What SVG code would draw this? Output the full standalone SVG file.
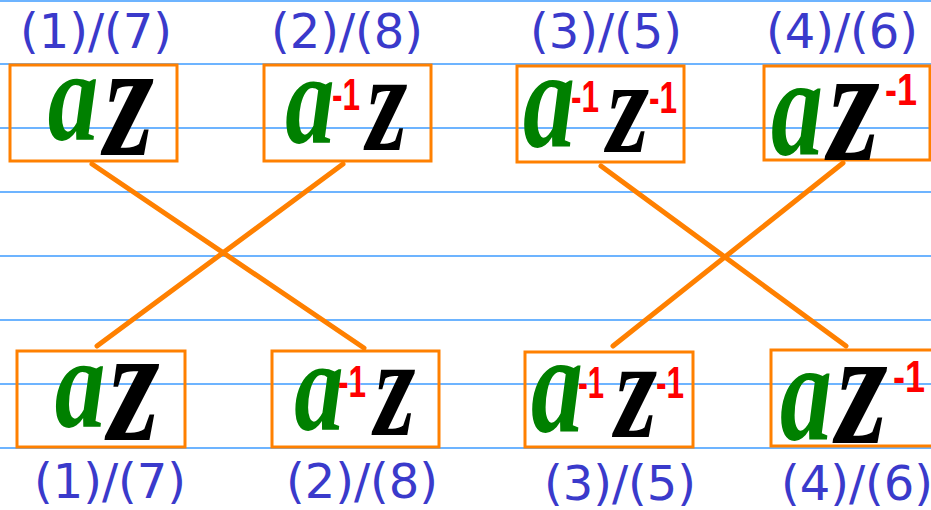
<svg xmlns="http://www.w3.org/2000/svg" width="931" height="510" viewBox="0 0 931 510">
<style>
.rule{stroke:#3d9bff;stroke-width:1.5}
.box{fill:none;stroke:#ff8000;stroke-width:3}
.conn{stroke:#ff8000;stroke-width:5;stroke-linecap:round}
.lbl{font-family:"DejaVu Sans",sans-serif;font-size:48px;fill:#3a3acb;text-anchor:middle}
.ga{font-family:"Liberation Serif",serif;font-style:italic;font-weight:bold;font-size:130px;fill:#008000;text-anchor:middle}
.gz{font-family:"Liberation Serif",serif;font-style:italic;font-weight:bold;font-size:150px;fill:#000;text-anchor:middle}
.gr{font-family:"Liberation Sans",sans-serif;font-weight:bold;font-size:44px;fill:#ff0000;text-anchor:middle}
</style>
<rect width="931" height="510" fill="#fff"/>
<g id="rules">
<line class="rule" x1="0" y1="1" x2="931" y2="1"/>
<line class="rule" x1="0" y1="64" x2="931" y2="64"/>
<line class="rule" x1="0" y1="128" x2="931" y2="128"/>
<line class="rule" x1="0" y1="192" x2="931" y2="192"/>
<line class="rule" x1="0" y1="256" x2="931" y2="256"/>
<line class="rule" x1="0" y1="320" x2="931" y2="320"/>
<line class="rule" x1="0" y1="384" x2="931" y2="384"/>
<line class="rule" x1="0" y1="448" x2="931" y2="448"/>
</g>
<g id="connectors">
<line class="conn" x1="92" y1="164" x2="364" y2="348"/>
<line class="conn" x1="343" y1="164" x2="97" y2="346"/>
<line class="conn" x1="601" y1="166" x2="846" y2="346"/>
<line class="conn" x1="843" y1="163" x2="613" y2="346"/>
</g>
<g id="top1">
<rect class="box" x="10" y="65" width="167" height="96"/>
<text class="lbl" x="96" y="48">(1)/(7)</text>
<text class="ga" transform="translate(73,140) scale(0.78,1)">a</text>
<text class="gz" transform="translate(129,155) scale(0.85,1.1)">z</text>
</g>
<g id="top2">
<rect class="box" x="264" y="65" width="167" height="96"/>
<text class="lbl" x="347" y="48">(2)/(8)</text>
<text class="ga" transform="translate(310,143) scale(0.76,1)">a</text>
<text class="gr" x="346" y="110" textLength="28" lengthAdjust="spacingAndGlyphs">-1</text>
<text class="gz" transform="translate(387,150) scale(0.7,0.95)">z</text>
</g>
<g id="top3">
<rect class="box" x="517" y="66" width="167" height="96"/>
<text class="lbl" x="606" y="48">(3)/(5)</text>
<text class="ga" transform="translate(549,147) scale(0.8,1.1)">a</text>
<text class="gr" x="585" y="112" textLength="28" lengthAdjust="spacingAndGlyphs">-1</text>
<text class="gz" transform="translate(628,152) scale(0.72,0.9)">z</text>
<text class="gr" x="663" y="113" textLength="28" lengthAdjust="spacingAndGlyphs">-1</text>
</g>
<g id="top4">
<rect class="box" x="764" y="66" width="166" height="94"/>
<text class="lbl" x="842" y="48">(4)/(6)</text>
<text class="ga" transform="translate(797,155) scale(0.8,1.1)">a</text>
<text class="gz" transform="translate(854,160) scale(0.88,1.1)">z</text>
<text class="gr" x="901" y="105" textLength="32" lengthAdjust="spacingAndGlyphs">-1</text>
</g>
<g id="bot1">
<rect class="box" x="17" y="351" width="168" height="96"/>
<text class="lbl" x="110" y="498">(1)/(7)</text>
<text class="ga" transform="translate(80,427) scale(0.78,1)">a</text>
<text class="gz" transform="translate(134,440) scale(0.88,1.1)">z</text>
</g>
<g id="bot2">
<rect class="box" x="272" y="351" width="167" height="96"/>
<text class="lbl" x="362" y="498">(2)/(8)</text>
<text class="ga" transform="translate(319,430) scale(0.76,1)">a</text>
<text class="gr" x="352" y="397" textLength="28" lengthAdjust="spacingAndGlyphs">-1</text>
<text class="gz" transform="translate(395,435) scale(0.7,0.95)">z</text>
</g>
<g id="bot3">
<rect class="box" x="525" y="352" width="168" height="95"/>
<text class="lbl" x="620" y="500">(3)/(5)</text>
<text class="ga" transform="translate(557,432) scale(0.8,1.1)">a</text>
<text class="gr" x="591" y="398" textLength="26" lengthAdjust="spacingAndGlyphs">-1</text>
<text class="gz" transform="translate(636,437) scale(0.72,0.95)">z</text>
<text class="gr" x="670" y="398" textLength="28" lengthAdjust="spacingAndGlyphs">-1</text>
</g>
<g id="bot4">
<rect class="box" x="771" y="350" width="175" height="96"/>
<text class="lbl" x="857" y="500">(4)/(6)</text>
<text class="ga" transform="translate(806,440) scale(0.8,1.1)">a</text>
<text class="gz" transform="translate(862,443) scale(0.88,1.1)">z</text>
<text class="gr" x="909" y="392" textLength="32" lengthAdjust="spacingAndGlyphs">-1</text>
</g>
</svg>
